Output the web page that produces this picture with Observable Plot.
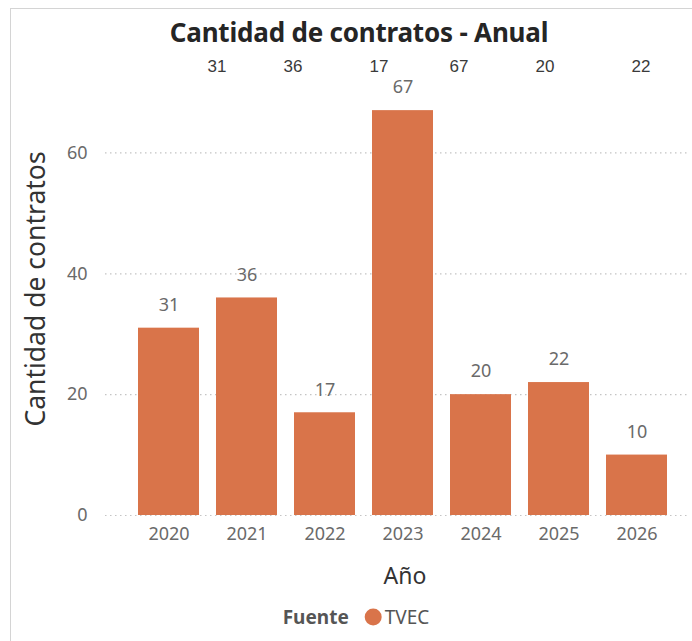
<!DOCTYPE html>
<html>
<head>
<meta charset="utf-8">
<script src="https://cdn.jsdelivr.net/npm/d3@7"></script>
<script src="https://cdn.jsdelivr.net/npm/@observablehq/plot@0.6"></script>
<style>
  html, body { margin: 0; padding: 0; background: #fff; }
  #wrap { position: relative; width: 692px; height: 641px; overflow: hidden; font-family: "Noto Sans", sans-serif; }
  #frame { position: absolute; left: 10px; top: 8px; width: 720px; height: 700px; border-top: 1px solid #d4d4d4; border-left: 1px solid #d4d4d4; }
  #chart { position: absolute; left: 0; top: 0; }
  .lbl { position: absolute; transform: translate(-50%, -50%); white-space: nowrap; line-height: 1; }
  #title { left: 359px; top: 32px; font-size: 26px; font-weight: 700; color: #252525; letter-spacing: -0.2px; }
  #ylab { left: 35px; top: 289px; font-size: 26.5px; color: #333; transform: translate(-50%, -50%) rotate(-90deg); }
  #xlab { left: 405px; top: 575px; font-size: 23px; color: #333; }
  #legend { left: 356px; top: 617px; font-size: 19px; color: #555; display: flex; align-items: center; }
  #legend b { margin-right: 16px; }
  #legend .dot { display: inline-block; width: 17px; height: 17px; border-radius: 50%; margin-right: 3px; }
</style>
</head>
<body>
<div id="wrap">
  <div id="frame"></div>
  <div id="chart"></div>
  <div id="title" class="lbl"></div>
  <div id="ylab" class="lbl"></div>
  <div id="xlab" class="lbl"></div>
  <div id="legend" class="lbl"></div>
</div>
<script>
// ---- data ----
const years = ["2020", "2021", "2022", "2023", "2024", "2025", "2026"];
const counts = [31, 36, 17, 67, 20, 22, 10];
const topLabels = [31, 36, 17, 67, 20, 22];
const yTicks = [0, 20, 40, 60];
const titleText = "Cantidad de contratos - Anual";
const yLabel = "Cantidad de contratos";
const xLabel = "Año";
const legendTitle = "Fuente";
const seriesName = "TVEC";

// ---- layout / style constants ----
const barColor = "#D9744A";
const topLabelShift = [48, 46, 54, 56, 64, 82];

const data = years.map((year, i) => ({year, count: counts[i]}));

const topMarks = topLabels.map((v, i) =>
  Plot.text([v], {
    x: () => years[i],
    text: d => d,
    frameAnchor: "top",
    dx: topLabelShift[i],
    dy: -26,
    lineAnchor: "middle",
    fontSize: 17,
    fontFamily: "'Liberation Sans', Arial, sans-serif",
    fill: "#3a3a3a"
  })
);

const chart = Plot.plot({
  width: 692,
  height: 641,
  marginTop: 92,
  marginBottom: 126,
  marginLeft: 105,
  marginRight: 2,
  style: {fontFamily: "'Noto Sans', sans-serif", background: "transparent", overflow: "visible"},
  x: {domain: years, range: [119, 686], padding: 0.22, label: null},
  y: {domain: [0, 70], label: null},
  marks: [
    Plot.gridY(yTicks, {stroke: "#c4c4c4", strokeOpacity: 1, strokeDasharray: "1.5,3.5", strokeWidth: 1.2}),
    Plot.barY(data, {x: "year", y: "count", fill: barColor}),
    Plot.axisY(yTicks, {tickSize: 0, tickPadding: 18, fontSize: 18, fill: "#6a6a6a", label: null}),
    Plot.axisX({tickSize: 0, tickPadding: 12, fontSize: 18, fill: "#6a6a6a", label: null}),
    Plot.text(data, {x: "year", y: "count", text: "count", dy: -23, lineAnchor: "middle", fontSize: 18, fill: "#6a6a6a"}),
    ...topMarks
  ]
});
document.getElementById("chart").appendChild(chart);

document.getElementById("title").textContent = titleText;
document.getElementById("ylab").textContent = yLabel;
document.getElementById("xlab").textContent = xLabel;
const legend = document.getElementById("legend");
const b = document.createElement("b");
b.textContent = legendTitle;
const dot = document.createElement("span");
dot.className = "dot";
dot.style.background = barColor;
const name = document.createElement("span");
name.textContent = seriesName;
legend.append(b, dot, name);
</script>
</body>
</html>
